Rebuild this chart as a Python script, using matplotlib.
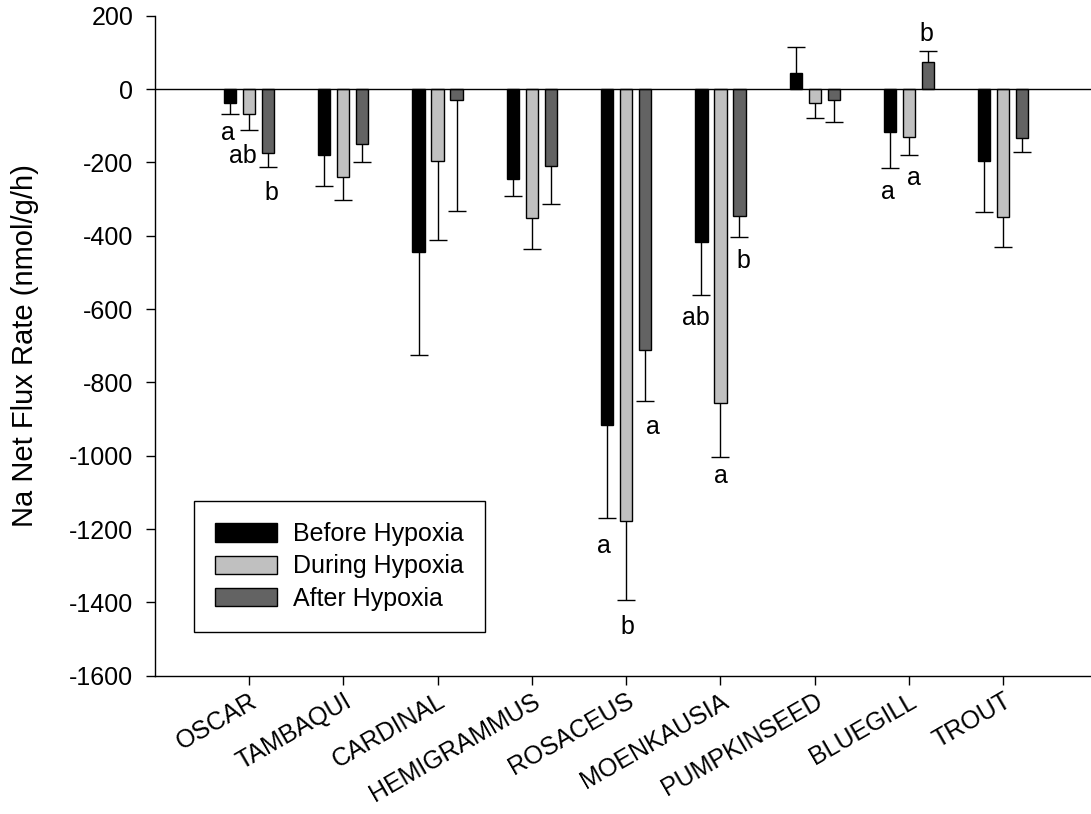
import matplotlib
matplotlib.use("Agg")
import matplotlib.pyplot as plt
import numpy as np

plt.rcParams['font.family'] = ['Liberation Sans', 'DejaVu Sans']
plt.rcParams['axes.unicode_minus'] = False

categories = ["OSCAR", "TAMBAQUI", "CARDINAL", "HEMIGRAMMUS", "ROSACEUS",
              "MOENKAUSIA", "PUMPKINSEED", "BLUEGILL", "TROUT"]
series_names = ["Before Hypoxia", "During Hypoxia", "After Hypoxia"]

before_mean = [-37, -180, -445, -244, -917, -417, 44, -116, -197]
before_err = [30, 84, 279, 48, 253, 146, 70, 99, 139]
during_mean = [-67, -241, -195, -353, -1177, -855, -38, -131, -348]
during_err = [45, 62, 216, 83, 216, 149, 40, 49, 84]
after_mean = [-175, -149, -29, -211, -713, -346, -29, 75, -133]
after_err = [37, 51, 304, 103, 139, 58, 62, 30, 39]

# significance letters: (category index, series index, text)
letters = [(0, 0, "a"), (0, 1, "ab"), (0, 2, "b"),
           (4, 0, "a"), (4, 1, "b"), (4, 2, "a"),
           (5, 0, "ab"), (5, 1, "a"), (5, 2, "b"),
           (7, 0, "a"), (7, 1, "a"), (7, 2, "b")]
# letter placement tweaks in pixels (dx, distance of baseline from cap)
letter_offsets = [(-2, 26), (-6, 33), (3, 33),
                  (-3, 35), (1, 34), (8, 33),
                  (-6, 30), (0, 26), (4, 31),
                  (-2, 31), (5, 30), (-2, 10)]

colors = ["#000000", "#c0c0c0", "#636363"]

W, H = 1091, 814
fig = plt.figure(figsize=(W / 100, H / 100), dpi=100)
ax = fig.add_axes([155 / W, 1 - 675.7 / H, (W - 155) / W, (675.7 - 15.7) / H])

means = [before_mean, during_mean, after_mean]
errs = [before_err, during_err, after_err]
x = np.arange(len(categories))
width = 0.13
offs = [-0.2015, 0.0, 0.2015]
px2pt = 0.72

caps = []
for k in range(3):
    m = np.array(means[k], dtype=float)
    e = np.array(errs[k], dtype=float)
    xs = x + offs[k]
    ax.bar(xs, m, width=width, color=colors[k], edgecolor="black",
           linewidth=1.0, label=series_names[k], zorder=2)
    tip = np.where(m >= 0, m + e, m - e)
    ax.vlines(xs, m, tip, colors="black", linewidth=1.0, zorder=2)
    ax.plot(xs, tip, linestyle="none", marker="_", markersize=12.8,
            markeredgewidth=1.0, color="black", zorder=2)
    caps.append((xs, m, tip))

ax.axhline(0, color="black", linewidth=1.0, zorder=3)

for (ci, si, txt), (dx, dy) in zip(letters, letter_offsets):
    xs, m, tip = caps[si]
    sign = 1 if m[ci] >= 0 else -1
    ax.annotate(txt, xy=(xs[ci], tip[ci]), xytext=(dx * px2pt, sign * dy * px2pt),
                textcoords="offset points", ha="center", va="baseline",
                fontsize=18)

ax.set_xlim(-0.997, 8.93)
ax.set_ylim(-1600, 200)
ax.set_yticks(np.arange(-1600, 201, 200))
ax.set_xticks(x)
ax.set_xticklabels(categories, rotation=30, ha="right", va="top",
                   rotation_mode="anchor", fontsize=18)
ax.tick_params(axis="y", labelsize=18, length=6.5, width=1.0, direction="out", pad=9)
ax.tick_params(axis="x", length=6.5, width=1.0, direction="out", pad=3)

for s in ["top", "right"]:
    ax.spines[s].set_visible(False)
for s in ["left", "bottom"]:
    ax.spines[s].set_linewidth(1.0)

ax.set_ylabel("Na Net Flux Rate (nmol/g/h)", fontsize=21)
ax.yaxis.set_label_coords(-0.124, 0.5)

leg = ax.legend(loc="lower left", bbox_to_anchor=(39 / 936, 43.7 / 660),
                borderaxespad=0, fontsize=18, frameon=True, fancybox=False,
                handlelength=2.45, handleheight=0.75, handletextpad=0.65,
                labelspacing=0.33, borderpad=0.85, framealpha=1)
leg.get_frame().set_edgecolor("black")
leg.get_frame().set_linewidth(1.0)

fig.savefig("out.png", dpi=100)
